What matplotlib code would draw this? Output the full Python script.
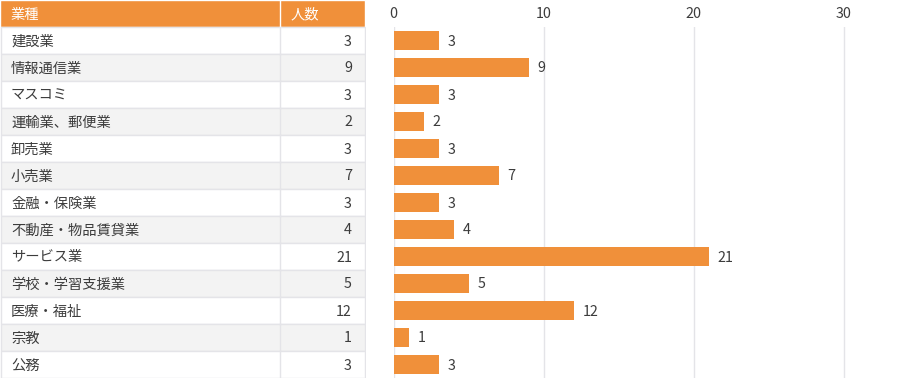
import matplotlib
matplotlib.use("Agg")
import matplotlib.pyplot as plt
from matplotlib.patches import Rectangle

plt.rcParams['font.family'] = ['Noto Sans CJK JP', 'DejaVu Sans']

header = ["業種", "人数"]
categories = ["建設業", "情報通信業", "マスコミ", "運輸業、郵便業", "卸売業", "小売業",
              "金融・保険業", "不動産・物品賃貸業", "サービス業", "学校・学習支援業",
              "医療・福祉", "宗教", "公務"]
values = [3, 9, 3, 2, 3, 7, 3, 4, 21, 5, 12, 1, 3]
xticks = [0, 10, 20, 30]

ORANGE = "#F0903A"
TEXT = "#3c3c3c"
BORDER = "#e4e4e8"
ALT = "#f3f3f3"
FS = 10.3

W, H = 900, 379
fig = plt.figure(figsize=(W / 100, H / 100), dpi=100)

# ---- table ----
ax_t = fig.add_axes([0, 1 / H, 366 / W, 378 / H])
ax_t.set_xlim(0, 366)
ax_t.set_ylim(len(categories) - 0.5, -1.5)
ax_t.axis("off")


def cell_text(x, y, s, ha, color):
    ax_t.annotate(s, (x, y), xytext=(0, -1), textcoords="offset pixels",
                  color=color, fontsize=FS, va="center", ha=ha)


ax_t.add_patch(Rectangle((0, -1.5), 365, 1, facecolor=ORANGE, edgecolor="white", lw=1))
ax_t.plot([280, 280], [-1.5, -0.5], color="white", lw=1)
cell_text(11, -1, header[0], "left", "white")
cell_text(291, -1, header[1], "left", "white")
for i, (c, v) in enumerate(zip(categories, values)):
    fc = "white" if i % 2 == 0 else ALT
    ax_t.add_patch(Rectangle((0.5, i - 0.5), 364.5, 1, facecolor=fc, edgecolor=BORDER, lw=1))
    ax_t.plot([280, 280], [i - 0.5, i + 0.5], color=BORDER, lw=1)
    cell_text(11, i, c, "left", TEXT)
    cell_text(352, i, str(v), "right", TEXT)

# ---- bar chart ----
x0 = 393.5
ax_b = fig.add_axes([x0 / W, 1 / H, (W - x0) / W, 351 / H])
ax_b.set_xlim(0, (W - x0) / 15)
ax_b.set_ylim(len(categories) - 0.5, -0.5)
ax_b.barh(range(len(values)), values, height=0.74, color=ORANGE, zorder=2)
for i, v in enumerate(values):
    ax_b.annotate(str(v), (v, i), xytext=(9, -1), textcoords="offset pixels",
                  va="center", ha="left", color=TEXT, fontsize=FS)
ax_b.set_xticks(xticks)
ax_b.set_yticks([])
ax_b.xaxis.tick_top()
ax_b.tick_params(axis="x", length=0, pad=4.2, labelsize=FS, labelcolor=TEXT)
ax_b.grid(axis="x", color=BORDER, lw=1, zorder=0)
for s in ax_b.spines.values():
    s.set_visible(False)

fig.savefig("out.png", dpi=100)
